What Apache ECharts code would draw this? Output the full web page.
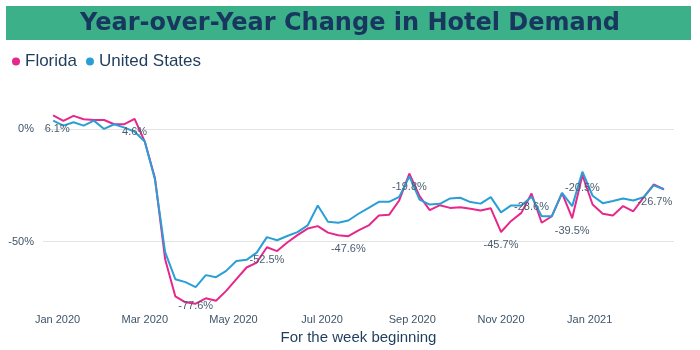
<!DOCTYPE html>
<html>
<head>
<meta charset="utf-8">
<script src="https://cdn.jsdelivr.net/npm/echarts@6/dist/echarts.min.js"></script>
<style>
  html, body { margin: 0; padding: 0; background: #fff; }
  #chart { width: 700px; height: 350px; }
</style>
</head>
<body>
<div id="chart"></div>
<script>
// weekly data, weeks beginning on Sunday
var firstWeek = '2019-12-29'
var weekCount = 61

var florida = [
  6.1, 3.7, 5.9, 4.4, 4.1, 4.1, 2.2, 2.2, 4.6, -5.5,
  -21.7, -57.8, -74.3, -77.0, -77.6, -75.2, -76.3, -71.9, -66.7, -61.5,
  -59.3, -52.5, -54.2, -50.4, -47.1, -44.2, -43.1, -46.0, -47.2, -47.6,
  -45.0, -42.8, -38.4, -38.1, -31.7, -19.8, -29.8, -36.0, -33.8, -35.0,
  -34.7, -35.4, -36.2, -35.2, -45.7, -40.8, -37.2, -28.6, -41.6, -38.7,
  -28.4, -39.5, -20.5, -33.5, -37.6, -38.4, -34.2, -36.5, -30.4, -24.6,
  -26.7
]

var unitedStates = [
  3.8, 1.6, 3.1, 1.6, 3.8, 0.1, 2.2, 0.7, -1.1, -5.5,
  -22.4, -54.7, -66.7, -68.0, -70.2, -64.9, -65.8, -63.0, -58.6, -58.1,
  -54.9, -48.0, -49.4, -47.5, -45.8, -42.8, -33.9, -41.2, -41.6, -40.6,
  -37.6, -35.0, -32.3, -32.3, -30.1, -21.0, -31.3, -33.5, -33.2, -30.8,
  -30.5, -32.4, -33.1, -30.2, -37.0, -33.9, -33.9, -30.0, -38.7, -38.7,
  -28.3, -34.2, -18.9, -29.6, -32.9, -31.9, -30.8, -31.7, -30.3, -25.0,
  -26.7
]

// Florida weeks that carry a value label
var labeledWeeks = [0, 8, 14, 21, 29, 35, 44, 47, 51, 52, 60]

var monthTicks = ['2020-01-01', '2020-03-01', '2020-05-01', '2020-07-01', '2020-09-01', '2020-11-01', '2021-01-01']
var yTicks = [-50, 0]

var monthNames = ['Jan', 'Feb', 'Mar', 'Apr', 'May', 'Jun', 'Jul', 'Aug', 'Sep', 'Oct', 'Nov', 'Dec']

function ts(s) {
  return Date.UTC(+s.slice(0, 4), +s.slice(5, 7) - 1, +s.slice(8, 10))
}

var weeks = []
var start = ts(firstWeek)
for (var i = 0; i < weekCount; i++) {
  weeks.push(start + i * 7 * 86400000)
}

var labelOffsets = { 0: [4, 0], 14: [0, -11], 60: [-9, 0] }

function buildSeriesData(values, withLabels) {
  var out = []
  for (var i = 0; i < values.length; i++) {
    var item = { value: [weeks[i], values[i]] }
    if (withLabels && labeledWeeks.indexOf(i) !== -1) {
      item.symbol = 'circle'
      item.symbolSize = 1
      item.label = {
        show: true,
        position: 'bottom',
        distance: 7,
        offset: labelOffsets[i] || [0, 0],
        formatter: values[i].toFixed(1) + '%',
        color: '#4a5d70',
        fontSize: 11,
        fontFamily: 'Liberation Sans'
      }
    }
    out.push(item)
  }
  return out
}

var chart = echarts.init(document.getElementById('chart'))

chart.setOption({
  animation: false,
  textStyle: { fontFamily: 'Liberation Sans' },
  graphic: [{
    type: 'rect',
    left: 6,
    top: 6,
    shape: { width: 685, height: 34 },
    style: { fill: '#3cb189' },
    z: -1
  }],
  title: {
    text: 'Year-over-Year Change in Hotel Demand',
    left: 'center',
    top: 12,
    padding: 0,
    textStyle: {
      fontSize: 24,
      fontWeight: 'bold',
      color: '#17375e',
      fontFamily: 'DejaVu Sans'
    }
  },
  legend: {
    left: 12,
    top: 53,
    padding: 0,
    icon: 'circle',
    itemWidth: 8,
    itemHeight: 8,
    itemGap: 9,
    textStyle: { fontSize: 17, color: '#1f3d5c' },
    data: ['Florida', 'United States']
  },
  grid: {
    left: 43,
    right: 26,
    top: 106.7,
    bottom: 40
  },
  xAxis: {
    type: 'value',
    min: ts('2019-12-22'),
    max: ts('2021-02-28'),
    name: 'For the week beginning',
    nameLocation: 'middle',
    nameGap: 16,
    nameTextStyle: { fontSize: 15, color: '#1f3d5c' },
    axisLine: { show: false },
    axisTick: { show: false, customValues: monthTicks.map(ts) },
    splitLine: { show: false },
    axisLabel: {
      customValues: monthTicks.map(ts),
      margin: 5,
      fontSize: 11,
      color: '#3e5468',
      formatter: function (v) {
        var d = new Date(v)
        return monthNames[d.getUTCMonth()] + ' ' + d.getUTCFullYear()
      }
    }
  },
  yAxis: {
    type: 'value',
    min: -80,
    max: 10,
    axisLine: { show: false },
    axisTick: { show: false, customValues: yTicks },
    axisLabel: {
      customValues: yTicks,
      margin: 9,
      fontSize: 11,
      color: '#3e5468',
      formatter: '{value}%'
    },
    splitLine: { show: true, lineStyle: { color: '#e3e3e3', width: 1 } }
  },
  series: [
    {
      name: 'Florida',
      type: 'line',
      symbol: 'none',
      showSymbol: true,
      showAllSymbol: true,
      color: '#e6288c',
      lineStyle: { width: 2 },
      data: buildSeriesData(florida, true)
    },
    {
      name: 'United States',
      type: 'line',
      symbol: 'none',
      color: '#2a9fd6',
      lineStyle: { width: 2 },
      data: buildSeriesData(unitedStates, false)
    }
  ]
})
</script>
</body>
</html>
